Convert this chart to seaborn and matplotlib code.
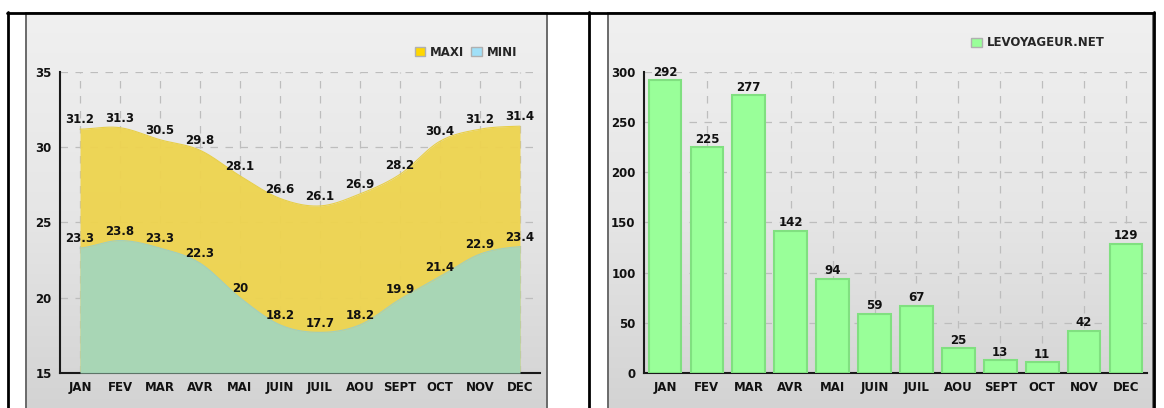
import numpy as np
import pandas as pd
import matplotlib
matplotlib.use("Agg")
import matplotlib.pyplot as plt
from matplotlib.colors import LinearSegmentedColormap
from matplotlib.lines import Line2D
from matplotlib.patches import Patch, Rectangle
from matplotlib.ticker import MultipleLocator
import seaborn as sns

# ---- data ----
months = ["JAN", "FEV", "MAR", "AVR", "MAI", "JUIN", "JUIL", "AOU", "SEPT", "OCT", "NOV", "DEC"]
temp_max = [31.2, 31.3, 30.5, 29.8, 28.1, 26.6, 26.1, 26.9, 28.2, 30.4, 31.2, 31.4]
temp_min = [23.3, 23.8, 23.3, 22.3, 20, 18.2, 17.7, 18.2, 19.9, 21.4, 22.9, 23.4]
rain = [292, 225, 277, 142, 94, 59, 67, 25, 13, 11, 42, 129]
legend_temp = ["MAXI", "MINI"]
legend_rain = "LEVOYAGEUR.NET"

sns.set_style("white")
plt.rcParams["font.family"] = ["DejaVu Sans"]
FONT = dict(fontsize=8.5, fontweight="bold", color="#111111")

W, H = 1164, 408
fig = plt.figure(figsize=(W / 100, H / 100), dpi=100)


def fx(px):
    return px / W


def fy(py):
    return 1 - py / H


def panel(x0, y0, x1, y1):
    bg = fig.add_axes([fx(x0), fy(y1), fx(x1 - x0), (y1 - y0) / H], zorder=0)
    grad = np.linspace(0, 1, 256).reshape(-1, 1)
    cmap = LinearSegmentedColormap.from_list("bg", ["#f0f0f0", "#e6e6e6", "#d3d3d3"])
    bg.imshow(grad, aspect="auto", cmap=cmap, extent=[0, 1, 0, 1], origin="upper")
    bg.set_xlim(0, 1)
    bg.set_ylim(0, 1)
    bg.axis("off")
    bg.add_patch(Rectangle((0, 0), 1, 1, transform=bg.transAxes, fill=False,
                           edgecolor="#6a6a6a", linewidth=1.4, clip_on=False))


panel(26, 13, 547, 410)
panel(608, 13, 1153, 410)

# outer frame lines
for (xa, ya, xb, yb) in [(7, 12.5, 1154, 12.5), (8, 12, 8, 408), (589, 12, 589, 408), (1153.5, 12, 1153.5, 408)]:
    fig.add_artist(Line2D([fx(xa), fx(xb)], [fy(ya), fy(yb)], transform=fig.transFigure,
                          color="black", linewidth=2.0, zorder=5))


def catmull_rom(y, n=30):
    y = np.asarray(y, dtype=float)
    p = np.concatenate([[y[0]], y, [y[-1]]])
    xs, ys = [], []
    for i in range(len(y) - 1):
        t = np.linspace(0, 1, n, endpoint=False)
        p0, p1, p2, p3 = p[i], p[i + 1], p[i + 2], p[i + 3]
        seg = 0.5 * ((2 * p1) + (-p0 + p2) * t + (2 * p0 - 5 * p1 + 4 * p2 - p3) * t ** 2
                     + (-p0 + 3 * p1 - 3 * p2 + p3) * t ** 3)
        xs.append(i + t)
        ys.append(seg)
    xs.append([len(y) - 1])
    ys.append([y[-1]])
    return np.concatenate(xs), np.concatenate(ys)


def style_axes(ax, minor_step):
    ax.set_facecolor("none")
    for s in ["top", "right"]:
        ax.spines[s].set_visible(False)
    for s in ["left", "bottom"]:
        ax.spines[s].set_color("#1a1a1a")
        ax.spines[s].set_linewidth(1.5)
    ax.yaxis.set_minor_locator(MultipleLocator(minor_step))
    ax.tick_params(axis="both", which="major", direction="inout", length=6, width=1.2,
                   color="#1a1a1a", labelsize=FONT["fontsize"], labelcolor=FONT["color"], pad=3)
    ax.tick_params(axis="y", which="minor", direction="out", length=3, width=1.5, color="#ff2020")
    ax.tick_params(axis="x", which="minor", length=0)
    for lab in ax.get_xticklabels() + ax.get_yticklabels():
        lab.set_fontweight("bold")
    ax.grid(True, which="major", linestyle=(0, (6, 6)), color="#bdbdbd", linewidth=0.9)
    ax.set_axisbelow(True)
    ax.set_xlabel("")
    ax.set_ylabel("")


# ---- temperatures ----
ax1 = fig.add_axes([fx(60), fy(373), fx(480), 301 / H], zorder=2)
xs, ys_max = catmull_rom(temp_max)
_, ys_min = catmull_rom(temp_min)
curves = pd.DataFrame({"x": xs, "maxi": ys_max, "mini": ys_min})
ax1.fill_between(curves["x"], 15, curves["maxi"], color="#eed44e", alpha=0.95, linewidth=0, zorder=2)
ax1.fill_between(curves["x"], 15, curves["mini"], color="#a6d7b9", alpha=0.97, linewidth=0, zorder=3)
sns.lineplot(data=curves, x="x", y="maxi", ax=ax1, color="#e8cf48", linewidth=0.8, zorder=3)
sns.lineplot(data=curves, x="x", y="mini", ax=ax1, color="#9fcfc0", linewidth=0.8, zorder=4)
ax1.set_xlim(-0.5, 11.5)
ax1.set_ylim(15, 35)
ax1.set_xticks(range(len(months)))
ax1.set_xticklabels(months)
ax1.set_yticks([15, 20, 25, 30, 35])
style_axes(ax1, 2.5)
for i, (a, b) in enumerate(zip(temp_max, temp_min)):
    ax1.annotate(f"{a:g}", (i, a), xytext=(0, 2), textcoords="offset points",
                 ha="center", va="bottom", zorder=6, **FONT)
    ax1.annotate(f"{b:g}", (i, b), xytext=(0, 2), textcoords="offset points",
                 ha="center", va="bottom", zorder=6, **FONT)

leg1 = fig.legend(handles=[Patch(facecolor="#ffd700", edgecolor="#b0b0b0", label=legend_temp[0]),
                           Patch(facecolor="#a0e0f8", edgecolor="#b0b0b0", label=legend_temp[1])],
                  loc="center", bbox_to_anchor=(fx(466), fy(52)), ncol=2, frameon=False,
                  handlelength=0.9, handleheight=0.9, handletextpad=0.4, columnspacing=0.6,
                  prop={"size": FONT["fontsize"], "weight": "bold"})

# ---- rainfall ----
ax2 = fig.add_axes([fx(644), fy(373), fx(503), 301 / H], zorder=2)
rain_df = pd.DataFrame({"month": months, "mm": rain})
sns.barplot(data=rain_df, x="month", y="mm", ax=ax2, color="#99ff99", saturation=1,
            width=0.78, edgecolor="#80e080", linewidth=1.5, zorder=3)
ax2.set_xlim(-0.5, 11.5)
ax2.set_ylim(0, 300)
ax2.set_yticks(range(0, 301, 50))
style_axes(ax2, 25)
for i, v in enumerate(rain):
    ax2.annotate(f"{v}", (i, v), xytext=(0, 1), textcoords="offset points",
                 ha="center", va="bottom", zorder=6, **FONT)

leg2 = fig.legend(handles=[Patch(facecolor="#99ff99", edgecolor="#b0b0b0", label=legend_rain)],
                  loc="center", bbox_to_anchor=(fx(1038), fy(43)), frameon=False,
                  handlelength=0.9, handleheight=0.9, handletextpad=0.4,
                  prop={"size": FONT["fontsize"], "weight": "bold"})

fig.savefig("out.png", dpi=100, facecolor="white")
